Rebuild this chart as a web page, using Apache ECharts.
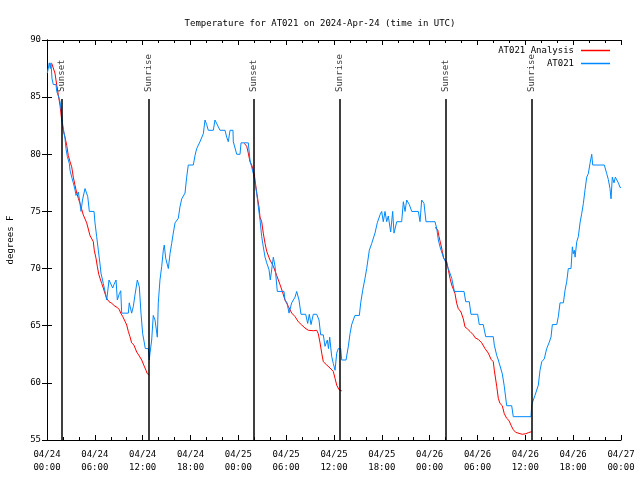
<!DOCTYPE html>
<html>
<head>
<meta charset="utf-8">
<script src="https://cdn.jsdelivr.net/npm/echarts@6/dist/echarts.min.js"></script>
<style>html,body{margin:0;padding:0;background:#fff}#c{width:640px;height:480px}</style>
</head>
<body>
<div id="c"></div>
<script>
// Hours since 2024-04-24 00:00 UTC
const xTickLabels = ['04/24\n00:00','04/24\n06:00','04/24\n12:00','04/24\n18:00','04/25\n00:00','04/25\n06:00','04/25\n12:00','04/25\n18:00','04/26\n00:00','04/26\n06:00','04/26\n12:00','04/26\n18:00','04/27\n00:00'];
const yTicks = [55, 60, 65, 70, 75, 80, 85, 90];

const sunHours = [1.79, 12.71, 25.88, 36.76, 49.96, 60.76];
const sunNames = ['Sunset', 'Sunrise', 'Sunset', 'Sunrise', 'Sunset', 'Sunrise'];
const sunLineTop = 84.84;
const sunLabelBase = 85.45;

// AT021 observations
const obsHours = [0.04,0.29,0.41,0.50,0.63,0.79,1.13,1.22,1.47,1.63,1.84,1.97,2.13,2.26,2.38,2.55,2.80,2.89,3.10,3.30,3.51,3.64,3.93,4.14,4.27,4.45,4.77,5.11,5.31,5.90,6.02,6.23,6.44,6.65,6.77,7.06,7.28,7.49,7.78,8.03,8.24,8.40,8.66,8.82,9.07,9.25,9.37,10.20,10.32,10.62,10.83,11.04,11.33,11.58,11.79,12.00,12.21,12.33,12.71,12.83,12.92,13.13,13.33,13.55,13.84,13.96,14.17,14.39,14.59,14.71,14.89,15.22,15.43,15.64,15.84,16.06,16.47,16.68,16.90,17.31,17.52,17.72,18.35,18.57,18.78,19.19,19.61,19.82,20.03,20.23,20.86,21.07,21.29,21.49,21.70,22.33,22.54,22.74,22.96,23.33,23.37,23.80,24.21,24.34,25.25,25.46,25.88,26.09,26.31,26.51,26.72,26.93,27.13,27.35,27.56,27.85,28.01,28.22,28.39,28.60,28.89,29.73,29.85,30.11,30.36,30.69,31.11,31.32,31.61,31.86,32.45,32.70,32.90,33.12,33.40,33.83,34.12,34.33,34.66,34.87,35.16,35.31,35.46,35.71,35.91,36.13,36.34,36.54,36.84,36.97,37.51,37.80,38.01,38.22,38.63,39.18,39.35,39.60,39.89,40.10,40.43,40.73,41.14,41.43,41.77,41.98,42.18,42.40,42.61,42.81,43.11,43.36,43.53,43.87,44.49,44.70,44.91,45.12,45.45,45.75,46.58,46.79,47.00,47.29,47.54,48.67,48.89,49.09,49.30,49.71,50.05,50.34,50.43,50.77,51.10,52.31,52.52,52.97,53.18,54.02,54.22,54.72,55.03,55.98,56.11,56.20,56.41,56.61,56.82,57.11,57.36,57.66,58.29,58.49,60.71,60.80,61.00,61.21,61.43,61.63,61.84,62.06,62.38,62.68,62.97,63.22,63.39,63.94,64.14,64.35,64.77,64.98,65.19,65.39,65.73,65.90,66.02,66.15,66.24,66.45,66.65,66.86,67.07,67.28,67.49,67.70,67.90,68.11,68.33,68.45,69.91,70.21,70.41,70.62,70.75,70.91,71.12,71.29,71.50,71.67,71.88,72.0];
const obsTemps = [87.1,88.0,87.5,88.0,86.6,86.1,86.1,85.5,85.0,84.6,83.6,82.6,81.9,81.4,80.5,79.8,79.2,78.6,78.0,77.5,76.9,76.4,76.7,75.7,75.0,76.0,77.0,76.3,75.0,75.0,74.0,72.8,71.6,70.4,69.6,68.7,68.0,67.25,69.0,69.0,68.3,68.6,69.0,67.25,67.8,68.06,66.1,66.1,67.0,66.1,66.7,67.7,69.0,68.4,66.1,64.3,63.5,63.0,63.0,62.0,62.6,63.75,65.9,65.5,64.0,67.0,69.0,70.2,71.6,72.06,70.9,70.0,71.3,72.2,73.1,74.0,74.4,75.4,76.1,76.6,78.0,79.06,79.06,79.9,80.5,81.1,81.8,83.0,82.6,82.1,82.1,83.0,83.0,82.4,82.1,82.1,81.5,81.1,82.1,82.1,81.1,80.0,80.0,81.0,81.0,79.5,78.3,77.5,76.6,75.4,74.25,72.8,71.9,71.0,70.5,69.9,69.0,69.0,71.0,70.2,68.0,68.0,67.25,67.0,66.1,67.0,67.5,68.0,67.25,66.0,66.0,65.2,66.0,65.1,66.0,66.0,65.5,64.2,64.2,63.2,63.75,63.0,64.0,62.3,61.7,61.1,62.6,63.0,63.0,62.0,62.0,63.2,64.3,65.1,65.9,65.9,67.0,68.1,69.15,70.0,71.6,72.2,73.1,74.0,74.7,75.0,74.1,75.0,74.1,74.6,73.2,75.0,73.1,74.1,74.1,75.85,75.0,76.0,75.6,75.0,75.0,74.1,76.0,75.7,74.1,74.1,73.5,72.5,71.9,71.0,70.5,70.0,69.9,69.15,68.0,68.0,67.1,67.1,66.0,66.0,65.1,65.1,64.04,64.04,63.3,63.2,62.4,62.0,61.9,60.8,59.7,58.0,58.0,57.04,57.04,58.06,58.5,58.9,59.0,59.8,61.1,61.85,62.1,63.0,63.5,64.0,65.1,65.1,65.8,67.0,67.0,68.1,68.85,70.0,70.0,71.9,71.3,71.6,71.0,72.35,72.8,74.0,74.8,75.7,76.9,78.0,78.3,79.2,80.0,79.06,79.06,78.3,77.8,77.0,76.1,78.0,77.5,78.0,78.0,77.5,77.1,77.1];

// AT021 Analysis (null separates nights)
const anaHours = [0.59,0.79,1.00,1.22,1.42,1.63,1.84,2.04,2.26,2.47,2.67,2.89,3.10,3.30,3.51,3.73,3.93,4.14,4.35,4.55,4.98,5.39,5.81,5.93,6.15,6.31,6.49,6.65,6.86,7.06,7.28,7.49,7.78,8.12,8.53,8.82,9.07,9.25,9.50,9.78,10.00,10.20,10.41,10.62,10.91,11.25,11.58,11.88,12.17,12.42,12.58,12.83,
  18.0,
  24.75,25.05,25.25,25.46,25.71,26.01,26.31,26.59,26.72,26.93,27.13,27.35,27.56,27.97,28.39,28.81,29.23,29.52,29.85,30.27,30.70,31.11,31.52,31.95,32.36,32.78,33.40,33.83,34.03,34.25,34.46,34.66,35.09,35.50,35.91,36.13,36.34,36.63,36.97,
  42.0,
  48.67,49.01,49.17,49.42,49.59,49.76,50.14,50.34,50.55,50.77,50.97,51.18,51.39,51.59,51.93,52.22,52.43,52.77,53.06,53.48,53.69,54.10,54.53,54.94,55.36,55.70,55.98,56.11,56.20,56.41,56.61,56.82,57.11,57.36,57.66,57.95,58.20,58.49,58.79,59.21,59.62,60.05,60.38,60.80];
const anaTemps = [87.96,87.96,87.1,86.06,85.2,84.3,83.0,82.1,81.5,80.8,79.9,79.35,78.9,78.0,77.3,76.6,76.15,75.7,75.2,74.7,74.0,72.9,72.35,71.6,70.9,70.2,69.5,69.15,68.7,68.3,67.8,67.4,67.1,66.96,66.7,66.6,66.4,66.1,65.8,65.4,65.06,64.5,64.04,63.5,63.3,62.7,62.35,62.0,61.5,61.1,60.8,60.7,
  null,
  80.96,80.7,80.1,79.35,79.0,78.2,76.6,75.4,74.5,74.1,73.1,72.2,71.5,70.75,70.2,69.4,68.6,68.0,67.25,66.7,66.1,65.8,65.35,65.06,64.8,64.6,64.56,64.6,64.3,63.5,62.6,61.85,61.56,61.3,61.0,60.4,59.8,59.4,59.3,
  null,
  73.6,73.4,72.8,72.06,71.5,70.9,70.6,69.9,69.15,68.56,68.4,67.8,66.96,66.5,66.2,65.6,64.9,64.7,64.5,64.2,63.95,63.8,63.5,63.0,62.6,62.06,61.85,61.1,61.0,59.7,58.65,58.2,58.0,57.3,56.9,56.7,56.3,55.9,55.67,55.58,55.5,55.55,55.64,55.73];

const FONT = 'DejaVu Sans Mono';
const FS = 9;

const obsData = obsHours.map((h, i) => [h, obsTemps[i]]);
const anaData = anaHours.map((h, i) => [h, anaTemps[i] === null ? '-' : anaTemps[i]]);
const sunLines = sunHours.map(h => [{coord: [h, 55]}, {coord: [h, sunLineTop]}]);
const sunLabels = sunHours.map((h, i) => ({value: [h, sunLabelBase], name: sunNames[i]}));

const axisCommon = {
  type: 'value', min: 0, max: 72, interval: 6,
  axisLine: {show: true, lineStyle: {color: '#000', width: 1}},
  axisTick: {show: true, inside: true, length: 5, lineStyle: {color: '#000'}},
  minorTick: {show: true, splitNumber: 3, length: 3, lineStyle: {color: '#000'}},
  splitLine: {show: false}
};
const yCommon = {
  type: 'value', min: 55, max: 90, interval: 5,
  axisLine: {show: true, lineStyle: {color: '#000', width: 1}},
  axisTick: {show: true, inside: true, length: 5, lineStyle: {color: '#000'}},
  splitLine: {show: false}
};

const chart = echarts.init(document.getElementById('c'), null, {renderer: 'canvas'});
chart.setOption({
  animation: false,
  backgroundColor: '#fff',
  textStyle: {fontFamily: FONT, fontSize: FS, color: '#000'},
  title: {
    text: 'Temperature for AT021 on 2024-Apr-24 (time in UTC)',
    left: 'center', top: 14,
    textStyle: {fontFamily: FONT, fontSize: FS, fontWeight: 'normal', color: '#000'}
  },
  legend: {
    orient: 'vertical', right: 30, top: 44, align: 'right', padding: 0,
    itemWidth: 29, itemHeight: 1.5, itemGap: 0, icon: 'rect',
    itemStyle: {borderWidth: 0},
    textStyle: {fontFamily: FONT, fontSize: FS, color: '#000', lineHeight: 13, padding: [0, 2, 0, 0]},
    data: ['AT021 Analysis', 'AT021']
  },
  grid: {left: 47, right: 19, top: 40, bottom: 40, containLabel: false, outerBoundsMode: 'none'},
  xAxis: [
    Object.assign({}, axisCommon, {
      position: 'bottom',
      axisLabel: {
        fontFamily: FONT, fontSize: FS, color: '#000', margin: 8, lineHeight: 13,
        formatter: v => xTickLabels[Math.round(v / 6)]
      }
    }),
    Object.assign({}, axisCommon, {position: 'top', axisLabel: {show: false}})
  ],
  yAxis: [
    Object.assign({}, yCommon, {
      position: 'left',
      name: 'degrees F', nameLocation: 'middle', nameGap: 32, nameRotate: 90,
      nameTextStyle: {fontFamily: FONT, fontSize: FS, color: '#000'},
      axisLabel: {fontFamily: FONT, fontSize: FS, color: '#000', margin: 6,
        formatter: v => String(yTicks[yTicks.indexOf(v)])}
    }),
    Object.assign({}, yCommon, {position: 'right', axisLabel: {show: false}})
  ],
  series: [
    {
      name: 'sun', type: 'scatter', symbolSize: 0, silent: true,
      data: sunLabels,
      label: {
        show: true, formatter: p => p.name, rotate: 90, position: [0, 0],
        align: 'left', verticalAlign: 'middle',
        fontFamily: FONT, fontSize: FS, color: '#000'
      },
      markLine: {
        silent: true, symbol: ['none', 'none'], label: {show: false},
        lineStyle: {color: '#000', width: 1.5, type: 'solid'},
        data: sunLines
      }
    },
    {
      name: 'AT021 Analysis', type: 'line', data: anaData, showSymbol: false, symbol: 'none',
      connectNulls: false,
      lineStyle: {color: '#ff0000', width: 1}, itemStyle: {color: '#ff0000'}
    },
    {
      name: 'AT021', type: 'line', data: obsData, showSymbol: false, symbol: 'none',
      lineStyle: {color: '#0088ff', width: 1}, itemStyle: {color: '#0088ff'}
    }
  ]
});
</script>
</body>
</html>
